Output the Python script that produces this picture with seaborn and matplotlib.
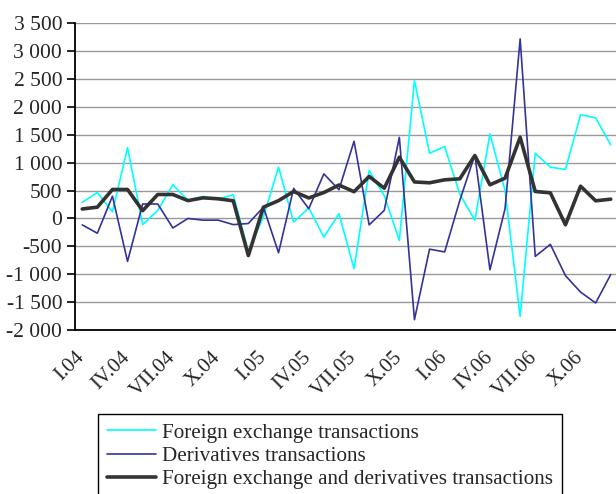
import matplotlib
matplotlib.use("Agg")
import matplotlib.pyplot as plt
import matplotlib.transforms as mtransforms
import seaborn as sns
import pandas as pd
import numpy as np

# ---- data (monthly, I.04 .. XII.06) ----
fx_transactions = [290, 465, 120, 1270, -110, 145, 605, 325, 395, 350, 425, -590,
                   30, 920, -65, 190, -335, 85, -900, 860, 410, -395, 2475, 1170,
                   1290, 440, -35, 1520, 500, -1755, 1170, 920, 880, 1860, 1805, 1320]
derivatives_transactions = [-115, -265, 400, -770, 260, 260, -170, 0, -30, -30, -110, -90,
                            203, -615, 540, 175, 800, 515, 1385, -115, 145, 1455, -1815, -550,
                            -600, 320, 1140, -920, 175, 3220, -680, -465, -1025, -1320, -1515, -1005]
combined_transactions = [170, 203, 520, 520, 140, 430, 430, 320, 370, 353, 317, -665,
                         203, 320, 484, 368, 465, 600, 480, 753, 543, 1099, 655, 640,
                         693, 711, 1129, 604, 723, 1457, 484, 460, -113, 579, 317, 346]
tick_labels = ["I.04", "IV.04", "VII.04", "X.04", "I.05", "IV.05", "VII.05", "X.05",
               "I.06", "IV.06", "VII.06", "X.06"]
series_names = ["Foreign exchange transactions", "Derivatives transactions",
                "Foreign exchange and derivatives transactions"]
y_ticks = list(range(-2000, 3501, 500))

months = np.arange(len(fx_transactions))
df = pd.DataFrame({
    "month": np.tile(months, 3),
    "value": fx_transactions + derivatives_transactions + combined_transactions,
    "series": np.repeat(series_names, len(months)),
})

sns.set_style("white")
plt.rcParams["font.family"] = ["Liberation Serif", "DejaVu Serif"]
plt.rcParams["axes.unicode_minus"] = False

fig = plt.figure(figsize=(6.16, 4.94), dpi=100)
ax = fig.add_axes([74.7 / 616, 1 - 330 / 494, 543.6 / 616, 306.7 / 494])

styles = {
    series_names[0]: dict(color="#00FFFF", lw=1.2),
    series_names[1]: dict(color="#333399", lw=1.2),
    series_names[2]: dict(color="#333333", lw=2.6),
}
for name in series_names:
    sub = df[df["series"] == name]
    sns.lineplot(data=sub, x="month", y="value", ax=ax, color=styles[name]["color"],
                 linewidth=styles[name]["lw"], label=name, legend=False)

if ax.get_legend() is not None:
    ax.get_legend().remove()

ax.set_xlim(-0.5, len(months) - 0.5)
ax.set_ylim(-2000, 3500)
ax.set_xlabel("")
ax.set_ylabel("")

# y axis
ax.set_yticks(y_ticks)
ax.set_yticklabels([f"{v:,}".replace(",", " ") for v in y_ticks], fontsize=15.5)
ax.yaxis.grid(True, color="#999999", linewidth=1)
ax.xaxis.grid(False)
ax.set_axisbelow(True)

# x axis: tick marks at category boundaries, labels at categories
ax.set_xticks(np.arange(-0.5, len(months), 3))
ax.set_xticklabels([])
ax.set_xticks(np.arange(0, len(months), 3), minor=True)
ax.set_xticklabels(tick_labels, minor=True, rotation=45, ha="right", va="top",
                   rotation_mode="anchor", fontsize=15)
ax.tick_params(axis="x", which="major", direction="out", length=7, width=1.2, color="black")
ax.tick_params(axis="x", which="minor", length=0, pad=13)
ax.tick_params(axis="y", direction="out", length=6, width=1.2, color="black", pad=3, left=True)
offset = mtransforms.ScaledTranslation(-7 / 100, 0, fig.dpi_scale_trans)
for lbl in ax.get_xticklabels(minor=True):
    lbl.set_transform(lbl.get_transform() + offset)

for s in ["top", "right"]:
    ax.spines[s].set_visible(False)
for s in ["left", "bottom"]:
    ax.spines[s].set_color("black")
    ax.spines[s].set_linewidth(1.3)

handles, labels = ax.get_legend_handles_labels()
leg = fig.legend(handles, labels, loc="upper left",
                 bbox_to_anchor=(98 / 616, 1 - 414 / 494), frameon=True, fancybox=False,
                 edgecolor="black", framealpha=1, fontsize=15.2, borderpad=0.42,
                 handlelength=2.35, handletextpad=0.25, labelspacing=0.17, borderaxespad=0)
leg.get_frame().set_linewidth(1.0)

fig.savefig("out.png", dpi=100)
